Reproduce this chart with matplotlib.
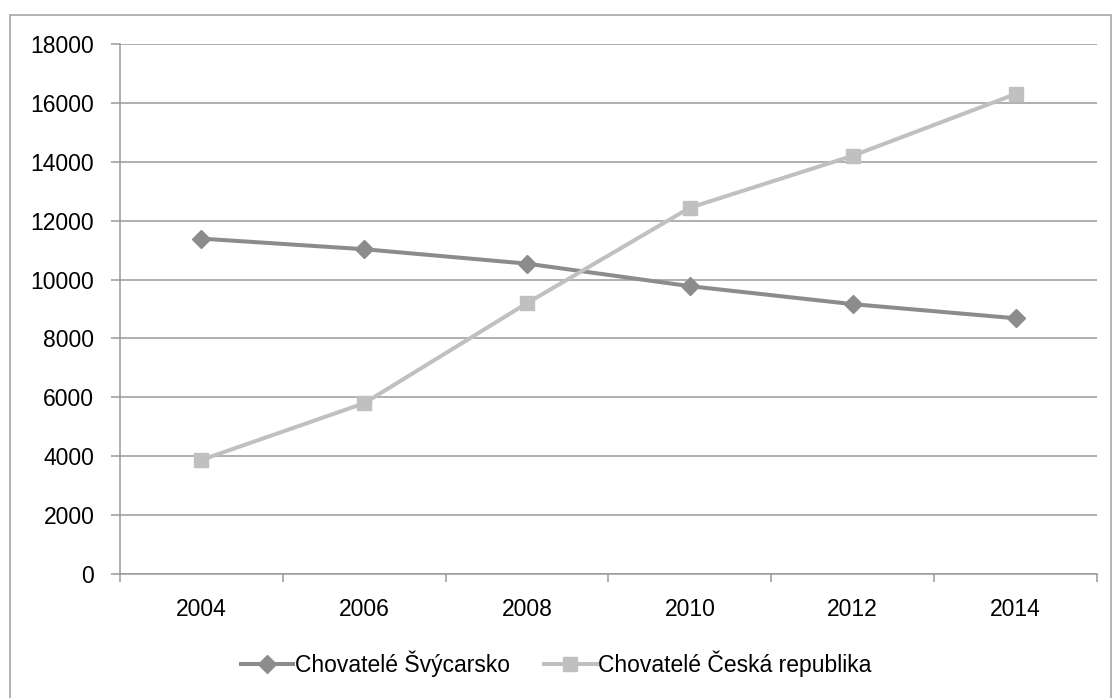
import numpy as np
import matplotlib
matplotlib.use('Agg')
from matplotlib import pyplot as plt
from matplotlib.patches import Rectangle

years = ['2004', '2006', '2008', '2010', '2012', '2014']
svycarsko = [11390, 11030, 10540, 9775, 9165, 8685]
ceska = [3875, 5800, 9200, 12440, 14205, 16300]
y_ticks = [0, 2000, 4000, 6000, 8000, 10000, 12000, 14000, 16000, 18000]

plt.rcParams['font.family'] = ['Liberation Sans', 'DejaVu Sans']
fs = 16.5
grid_c = '#9a9a9a'

W, H = 1112, 698
fig = plt.figure(figsize=(W / 100, H / 100), dpi=100)

# okraj grafu (spodni hrana je mimo obrazek)
fig.patches.append(Rectangle((10 / W, -0.05), 1101 / W, 683 / H + 0.05, transform=fig.transFigure,
                             fill=False, edgecolor='#a6a6a6', linewidth=1.2))

ax = fig.add_axes([120 / W, (H - 574) / H, 977 / W, 530 / H])

x = np.arange(len(years))
ax.plot(x, svycarsko, color='#8c8c8c', lw=2.9, marker='D', ms=9,
        label='Chovatelé Švýcarsko', zorder=3)
ax.plot(x, ceska, color='#c0c0c0', lw=2.9, marker='s', ms=10,
        label='Chovatelé Česká republika', zorder=3)

ax.set_xlim(-0.5, len(years) - 0.5)
ax.set_ylim(0, 18000)
ax.set_yticks(y_ticks)
ax.set_yticklabels([str(v) for v in y_ticks], fontsize=fs)
ax.set_xticks(x)
ax.set_xticklabels(years, fontsize=fs)
ax.set_xticks(np.arange(-0.5, len(years)), minor=True)

ax.yaxis.grid(True, color=grid_c, lw=1.1)
ax.set_axisbelow(True)
for s in ['top', 'right']:
    ax.spines[s].set_visible(False)
for s in ['left', 'bottom']:
    ax.spines[s].set_color(grid_c)
    ax.spines[s].set_linewidth(1.1)

ax.tick_params(axis='y', length=6.5, width=1.1, color=grid_c, pad=12)
ax.tick_params(axis='x', which='major', length=0, pad=17)
ax.tick_params(axis='x', which='minor', length=5.5, width=1.1, color=grid_c)

fig.legend(loc='center', bbox_to_anchor=(0.5, (H - 664) / H), ncol=2, frameon=False,
           fontsize=fs, handlelength=2.3, handletextpad=0.05, columnspacing=1.5)

plt.savefig('out.png', dpi=100)
